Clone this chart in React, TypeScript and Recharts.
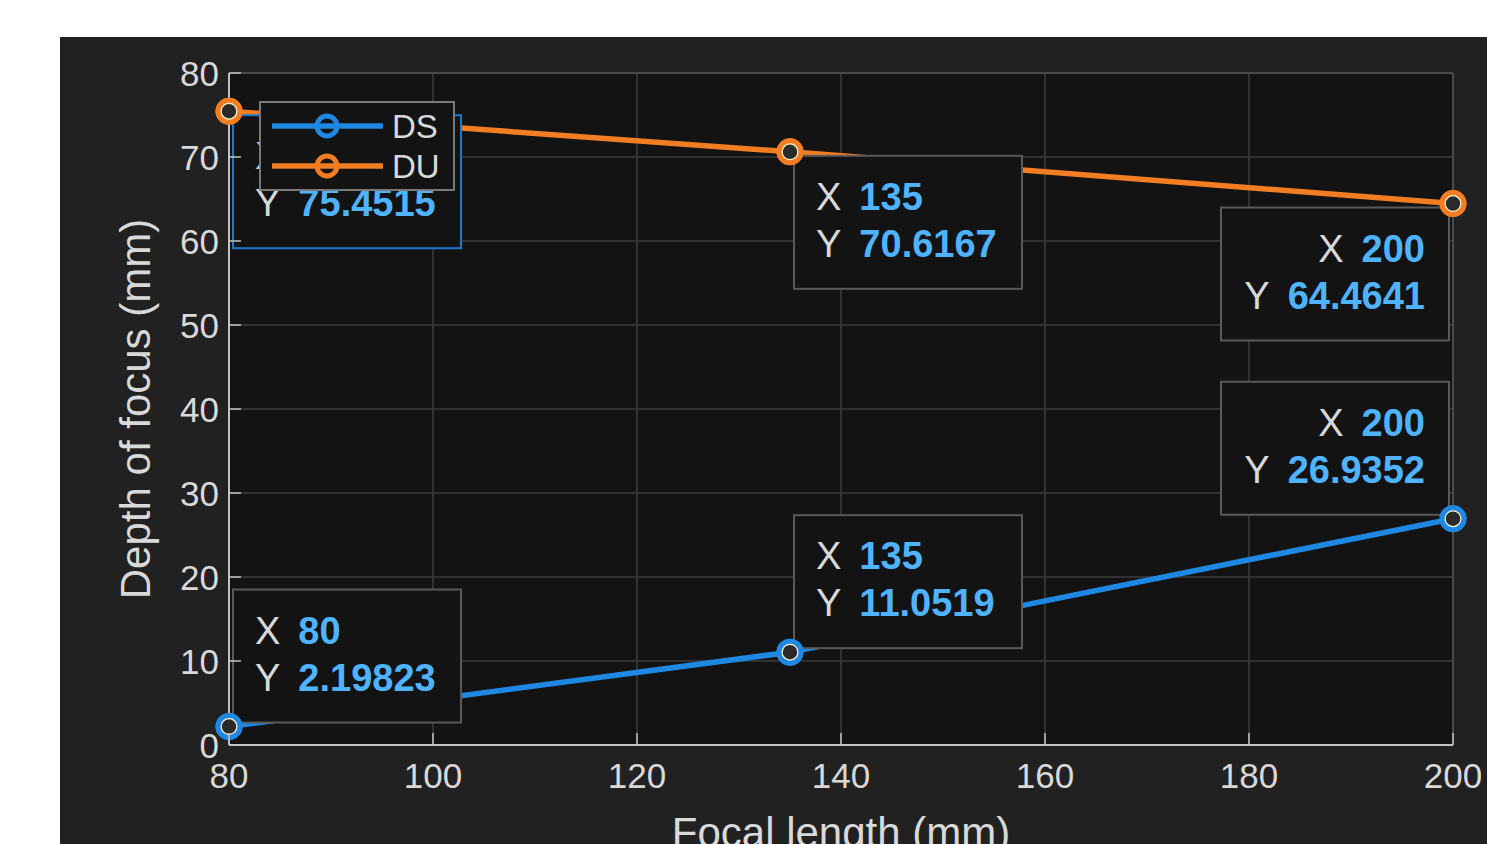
import React from "react";
import {
  LineChart,
  Line,
  XAxis,
  YAxis,
  CartesianGrid,
  ReferenceDot,
  ReferenceLine,
  Legend,
} from "recharts";

const focalLength = [80, 135, 200];
const dsValues = [2.19823, 11.0519, 26.9352];
const duValues = [75.4515, 70.6167, 64.4641];
const xTicks = [80, 100, 120, 140, 160, 180, 200];
const yTicks = [0, 10, 20, 30, 40, 50, 60, 70, 80];

const series = [
  { key: "ds", label: "DS", color: "#1f88e2", values: dsValues },
  { key: "du", label: "DU", color: "#f37d22", values: duValues },
];

// datatips: series, point index, side of the point where the box sits (b/t + r/l)
const dataTips = [
  { key: "du", index: 0, place: "br", selected: true },
  { key: "du", index: 1, place: "br", selected: false },
  { key: "du", index: 2, place: "bl", selected: false },
  { key: "ds", index: 2, place: "tl", selected: false },
  { key: "ds", index: 1, place: "tr", selected: false },
  { key: "ds", index: 0, place: "tr", selected: false },
];

const data = focalLength.map((f, i) => ({ x: f, ds: dsValues[i], du: duValues[i] }));

const FONT = "'Liberation Sans', Arial, Helvetica, sans-serif";
const TEXT = "#d9d9d9";
const AXIS = "#c4c4c4";
const GRID = "#3c3c3c";
const AX_BG = "#131313";
const FIG_BG = "#212121";

function XTick({ x, y, payload }: any) {
  return (
    <g>
      <line x1={x} y1={y} x2={x} y2={y - 12} stroke={AXIS} strokeWidth={1.5} />
      <text x={x} y={y + 43} textAnchor="middle" fill={TEXT} fontSize={35} fontFamily={FONT}>
        {payload.value}
      </text>
    </g>
  );
}

function YTick({ x, y, payload }: any) {
  return (
    <g>
      <line x1={x} y1={y} x2={x + 12} y2={y} stroke={AXIS} strokeWidth={1.5} />
      <text x={x - 10} y={y + 12.5} textAnchor="end" fill={TEXT} fontSize={35} fontFamily={FONT}>
        {payload.value}
      </text>
    </g>
  );
}

function DataTip({ cx, cy, tip }: any) {
  const W = 228;
  const H = 133;
  const gap = 4;
  const s = series.find((d) => d.key === tip.key)!;
  const left = tip.place[1] === "r" ? cx + gap : cx - gap - W;
  const top = tip.place[0] === "b" ? cy + gap : cy - gap - H;
  const alignRight = tip.place[1] === "l";
  const tx = alignRight ? left + W - 24 : left + 22;
  const anchor = alignRight ? "end" : "start";
  const rows = [
    ["X", String(focalLength[tip.index])],
    ["Y", String(s.values[tip.index])],
  ];
  return (
    <g>
      <rect
        x={left}
        y={top}
        width={W}
        height={H}
        fill={AX_BG}
        stroke={tip.selected ? "#1b78d0" : "#5a5a5a"}
        strokeWidth={2}
      />
      {rows.map((r, i) => (
        <text key={r[0]} x={tx} y={top + 54 + i * 47} textAnchor={anchor} fontSize={38} fontFamily={FONT}>
          <tspan fill={TEXT}>{r[0]}</tspan>
          <tspan dx={18} fill="#4fb3ff" fontWeight="bold">
            {r[1]}
          </tspan>
        </text>
      ))}
      <circle cx={cx} cy={cy} r={11} fill="none" stroke={s.color} strokeWidth={5} />
      <circle cx={cx} cy={cy} r={8.5} fill="#2a2a2a" stroke="#fbf6cf" strokeWidth={2.5} />
    </g>
  );
}

function LegendBox() {
  return (
    <svg width={196} height={90} style={{ display: "block" }}>
      <rect x={1} y={1} width={194} height={88} fill={AX_BG} stroke="#7a7a7a" strokeWidth={2} />
      {series.map((s, i) => {
        const y = 25 + i * 40;
        return (
          <g key={s.key}>
            <line x1={13} y1={y} x2={124} y2={y} stroke={s.color} strokeWidth={5.5} />
            <circle cx={68} cy={y} r={10} fill="none" stroke={s.color} strokeWidth={5} />
            <text x={133} y={y + 12} fill={TEXT} fontSize={33} fontFamily={FONT}>
              {s.label}
            </text>
          </g>
        );
      })}
    </svg>
  );
}

export default function App() {
  return (
    <div
      style={{
        position: "fixed",
        left: 0,
        top: 0,
        width: 1487,
        height: 844,
        background: "#ffffff",
        overflow: "hidden",
      }}
    >
      <div
        style={{
          position: "absolute",
          left: 60,
          top: 37,
          width: 1427,
          height: 807,
          background: FIG_BG,
        }}
      >
        <LineChart
          width={1427}
          height={807}
          data={data}
          margin={{ top: 36, right: 34, left: 0, bottom: 0 }}
        >
          <CartesianGrid stroke={GRID} strokeWidth={1.5} fill={AX_BG} />
          <XAxis
            dataKey="x"
            type="number"
            domain={[80, 200]}
            ticks={xTicks}
            interval={0}
            height={99}
            stroke={AXIS}
            strokeWidth={2}
            tickSize={0}
            tickMargin={0}
            tick={<XTick />}
            label={{
              content: ({ viewBox }: any) => (
                <text
                  x={viewBox.x + viewBox.width / 2}
                  y={viewBox.y + 102}
                  textAnchor="middle"
                  fill={TEXT}
                  fontSize={42}
                  fontFamily={FONT}
                >
                  Focal length (mm)
                </text>
              ),
            }}
          />
          <YAxis
            type="number"
            domain={[0, 80]}
            ticks={yTicks}
            interval={0}
            width={169}
            stroke={AXIS}
            strokeWidth={2}
            tickSize={0}
            tickMargin={0}
            tick={<YTick />}
            label={{
              content: ({ viewBox }: any) => {
                const lx = viewBox.x + 90;
                const ly = viewBox.y + viewBox.height / 2;
                return (
                  <text
                    x={lx}
                    y={ly}
                    transform={`rotate(-90 ${lx} ${ly})`}
                    textAnchor="middle"
                    fill={TEXT}
                    fontSize={42}
                    fontFamily={FONT}
                  >
                    Depth of focus (mm)
                  </text>
                );
              },
            }}
          />
          <ReferenceLine y={80} stroke="#4a4a4a" strokeWidth={2} ifOverflow="visible" />
          <ReferenceLine x={200} stroke="#4a4a4a" strokeWidth={2} ifOverflow="visible" />
          {series.map((s) => (
            <Line
              key={s.key}
              type="linear"
              dataKey={s.key}
              name={s.label}
              stroke={s.color}
              strokeWidth={5.5}
              dot={{ r: 11, stroke: s.color, strokeWidth: 5, fill: "none" }}
              activeDot={false}
              isAnimationActive={false}
            />
          ))}
          {dataTips.map((t) => {
            const s = series.find((d) => d.key === t.key)!;
            return (
              <ReferenceDot
                key={t.key + t.index}
                x={focalLength[t.index]}
                y={s.values[t.index]}
                r={10}
                ifOverflow="visible"
                shape={(p: any) => <DataTip cx={p.cx} cy={p.cy} tip={t} />}
              />
            );
          })}
          <Legend
            layout="vertical"
            align="center"
            verticalAlign="middle"
            content={() => <LegendBox />}
            wrapperStyle={{ left: 199, top: 64, width: 196, height: 90, right: "auto", bottom: "auto" }}
          />
        </LineChart>
      </div>
    </div>
  );
}
